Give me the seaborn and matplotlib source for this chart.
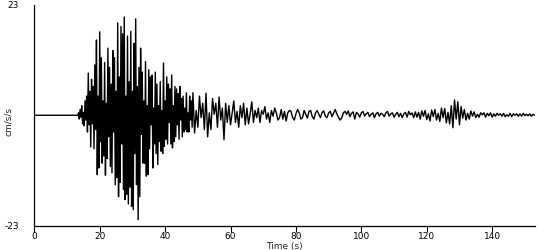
import numpy as np
import pandas as pd
import matplotlib
matplotlib.use("Agg")
import matplotlib.pyplot as plt
import seaborn as sns

# ---- data (cm/s/s) ----
pre_time = [0.0, 13.4]
pre_vals = [0.0, 0.0]

strong_start = 13.5   # s, sampled every 0.25 s
strong_step = 0.25
strong_vals = [
    0.5, -0.8, 1.2, -0.4, 2.0, -1.8, 0.6, -2.2, 3.0, -1.0,
    4.0, -3.5, 8.8, -2.0, 5.0, -6.6, 7.5, -1.8, 6.0, -7.0,
    10.5, -3.0, 15.7, -12.4, 4.0, -11.0, 17.4, -5.5, 12.0, -10.0,
    3.0, -8.5, 11.0, -12.5, 2.5, -9.0, 14.0, -4.5, 10.0, -10.7,
    6.5, -12.0, 13.5, -3.5, 12.0, -14.5, 5.0, -13.0, 19.3, -17.0,
    8.0, -14.0, 18.5, -6.0, 17.0, -15.5, 20.5, -17.6, 4.0, -16.5,
    16.5, -18.5, 7.0, -15.0, 17.5, -19.0, 5.0, -19.7, 15.0, -8.0,
    20.1, -14.5, 6.0, -21.8, 10.0, -17.0, 14.0, -4.0, 9.0, -10.0,
    3.0, -10.0, 11.2, -12.7, 2.0, -12.4, 9.5, -7.0, 8.0, -2.0,
    8.4, -11.0, 1.5, -6.0, 9.0, -8.0, 6.5, -10.3, 2.0, -5.5,
    7.0, -7.5, 1.0, -8.0, 10.9, -6.5, 3.0, -5.0, 8.0, -6.0,
    6.5, -1.5, 5.5, -6.0, 8.4, -6.8, 2.0, -5.5, 6.0, -4.5,
    5.5, -2.0, 4.5, -5.0, 6.0, -1.0, 3.5, -4.5, 4.0, -3.5,
    1.5, -3.0, 4.7, -3.5, 0.5, -3.5, 4.0, -1.0, 3.0, -2.5,
]

coda_start = 48.5     # s, sampled every 0.5 s
coda_step = 0.5
coda_vals = [
    4.7, -3.7, 1.0, -2.5, 4.0, -0.5, 2.5, -3.0, 4.6, -4.5,
    0.5, -3.0, 3.5, 0.2, 2.5, -2.5, 3.8, -1.0, 1.5, -5.1,
    2.5, -1.5, 2.0, -2.0, 0.5, 3.0, -1.5, 0.8, -2.5, 2.0,
    -0.5, 2.5, -2.0, 1.5, -1.8, 0.3, 2.8, -1.5, 1.0, -0.5,
    1.5, -1.5, 1.0, 0.2, 1.8, -0.8, 0.5, -1.5, 1.0, -0.2,
    1.5, 0.5, -1.0, -0.5, 1.2, -0.8, 0.8, -1.2, 0.5, 1.0,
    0.8, -0.5, -1.0, 0.3, 1.2, 0.5, -0.8, -0.5, 1.0, 0.2,
    -0.6, 0.8, 1.0, -0.3, -0.8, 0.5, 1.0, 0.2, -0.5, 0.6,
    0.9, -0.2, -0.5, 0.5, 0.8, -0.3, 0.4, 1.2, 0.3, -0.4,
    -1.0, -0.6, 0.5, 0.8, 0.2, 0.9, -0.3, 0.4, 0.7, -0.8,
    0.6, 0.3, -0.4, 0.5, 0.8, -0.2, 0.3, 0.6, -0.3, 0.2,
    0.5, -0.5, 0.3, 0.6, -0.2, 0.4, 0.2, -0.3, 0.5, 0.8,
    -0.2, 0.3, 0.5, -0.4, 0.2, 0.6, -0.3, 0.4, -0.5, 0.3,
    0.6, -0.4, 0.8, 0.1, 0.5, -0.5, 0.7, -0.4, 0.6, -0.8,
    0.9, -0.2, 1.0, -0.9, 0.3, -1.2, 1.1, -0.3, 1.2, -1.0,
    0.4, -1.3, 1.5, -0.5, 1.4, -1.6, 0.6, -1.8, 2.0, -2.6,
    3.2, -0.8, 2.8, -2.0, 1.8, -0.6, 1.2, -1.0, 0.4, -0.8,
    0.9, -0.2, 0.7, -0.5, 0.2, -0.4, 0.5, 0.1, 0.5, -0.4,
    0.4, -0.1, 0.5, -0.4, 0.3, -0.2, 0.4, 0.0, 0.3, -0.2,
    0.4, -0.3, 0.1, -0.2, 0.4, -0.3, 0.3, 0.0, 0.3, -0.2,
    0.3, -0.2, 0.4, -0.1, 0.2, -0.1, 0.3, -0.2, 0.2, 0.0,
]

x_ticks = [0, 20, 40, 60, 80, 100, 120, 140]
y_ticks = [-23, 23]
x_label = "Time (s)"
y_label = "cm/s/s"

# ---- build table ----
strong_time = strong_start + strong_step * np.arange(len(strong_vals))
coda_time = coda_start + coda_step * np.arange(len(coda_vals))
df = pd.DataFrame({
    "t": np.concatenate([pre_time, strong_time, coda_time]),
    "v": np.concatenate([pre_vals, strong_vals, coda_vals]),
})

sns.set_style("white")
plt.rcParams["font.family"] = ["DejaVu Sans"]

fig = plt.figure(figsize=(5.5, 2.5), dpi=100)
ax = fig.add_axes([0.0624, 0.098, 0.9103, 0.882])
sns.lineplot(data=df, x="t", y="v", estimator=None, sort=False,
             color="black", linewidth=1.0, ax=ax)

ax.set_xlim(0, 153.1)
ax.set_ylim(-23, 23)
ax.set_xticks(x_ticks)
ax.set_yticks(y_ticks)
ax.set_yticklabels([str(v) for v in y_ticks])
ax.tick_params(axis="x", direction="out", length=4, width=0.8, pad=0.5,
               labelsize=6.5, colors="black", bottom=True)
ax.tick_params(axis="y", length=0, pad=11, labelsize=6.5, colors="black")
ax.set_xlabel(x_label, fontsize=6.5)
ax.set_ylabel(y_label, fontsize=6.5)
ax.xaxis.set_label_coords(0.5, -0.075)
ax.yaxis.set_label_coords(-0.042, 0.47)
for s in ["top", "right"]:
    ax.spines[s].set_visible(False)
for s in ["left", "bottom"]:
    ax.spines[s].set_color("black")
    ax.spines[s].set_linewidth(0.9)

fig.savefig("out.png", dpi=100, facecolor="white")
